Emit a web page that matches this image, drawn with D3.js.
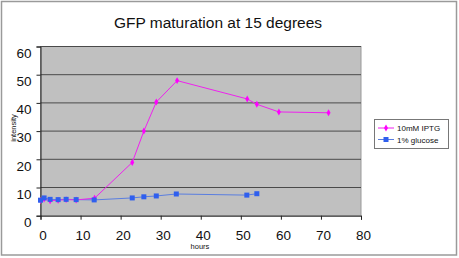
<!DOCTYPE html>
<html>
<head>
<meta charset="utf-8">
<script src="https://cdn.jsdelivr.net/npm/d3@7"></script>
<style>
  body { margin: 0; background: #fff; }
  text { font-family: "Liberation Sans", Arial, sans-serif; }
</style>
</head>
<body>
<svg></svg>
<script>
// values
const iptgHours = [0, 0.9, 2.4, 4.4, 6.4, 8.9, 13.5, 22.9, 25.8, 28.9, 34.1, 51.6, 54.0, 59.5, 71.9]
const iptgValues = [5.4, 5.9, 5.3, 5.5, 5.7, 5.6, 6.2, 18.9, 30.0, 40.3, 47.9, 41.4, 39.5, 36.8, 36.5]
const glucoseHours = [0, 0.9, 2.4, 4.4, 6.4, 8.9, 13.4, 22.9, 25.8, 28.9, 33.9, 51.5, 54.0]
const glucoseValues = [5.5, 6.3, 5.8, 5.7, 5.8, 5.7, 5.6, 6.3, 6.7, 7.0, 7.7, 7.3, 7.8]
const xTicks = [0, 10, 20, 30, 40, 50, 60, 70, 80]
const yTicks = [0, 10, 20, 30, 40, 50, 60]
const seriesNames = ['10mM IPTG', '1% glucose']

const
    svgWidth = 459,
    svgHeight = 258,
    LEFT = 40.5,
    RIGHT = 361,
    TOP = 46.5,
    BOTTOM = 215.7

let svg = d3.select('svg')
    .attr('width', svgWidth)
    .attr('height', svgHeight)

// outer frame
svg.append('rect')
    .attr('x', 1.5).attr('y', 1.5)
    .attr('width', 455).attr('height', 253.5)
    .attr('fill', 'none')
    .attr('stroke', '#9a9a9a')
    .attr('stroke-width', 1.5)

const x = d3.scaleLinear().domain([0, 80]).range([LEFT, RIGHT])
const y = d3.scaleLinear().domain([0, 60]).range([BOTTOM, TOP])

// plot area
svg.append('rect')
    .attr('x', LEFT).attr('y', TOP)
    .attr('width', RIGHT - LEFT).attr('height', BOTTOM - TOP)
    .attr('fill', '#c0c0c0')
    .attr('stroke', '#9a9a9a')
    .attr('stroke-width', 1)

// gridlines
svg.append('g')
    .selectAll('line')
    .data(yTicks.filter(d => d > 0))
    .join('line')
    .attr('x1', LEFT).attr('x2', RIGHT)
    .attr('y1', d => y(d)).attr('y2', d => y(d))
    .attr('stroke', '#4a4a4a')
    .attr('stroke-width', 1)

// axes
let xAxis = svg.append('g')
    .attr('transform', `translate(0,${BOTTOM})`)
    .call(d3.axisBottom(x).tickValues(xTicks).tickSize(4).tickPadding(11))
let yAxis = svg.append('g')
    .attr('transform', `translate(${LEFT},0)`)
    .call(d3.axisLeft(y).tickValues(yTicks).tickSize(4).tickPadding(5))

;[xAxis, yAxis].forEach(a => {
    a.selectAll('path, line').attr('stroke', '#222')
    a.selectAll('text')
        .attr('font-size', 13.5)
        .attr('font-family', '"Liberation Sans", Arial, sans-serif')
        .attr('fill', '#111')
})
yAxis.selectAll('text').attr('dy', '0.8em')
xAxis.selectAll('text').attr('dx', '0.15em')

// lines and markers
const iptg = iptgHours.map((h, i) => [h, iptgValues[i]])
const glucose = glucoseHours.map((h, i) => [h, glucoseValues[i]])
const line = d3.line().x(d => x(d[0])).y(d => y(d[1]))

svg.append('path')
    .attr('d', line(glucose))
    .attr('fill', 'none')
    .attr('stroke', '#5a7ee0')
    .attr('stroke-width', 1)

svg.append('path')
    .attr('d', line(iptg))
    .attr('fill', 'none')
    .attr('stroke', '#ee22ee')
    .attr('stroke-width', 1)

svg.append('g')
    .selectAll('path')
    .data(iptg)
    .join('path')
    .attr('d', d3.symbol(d3.symbolDiamond, 14))
    .attr('transform', d => `translate(${x(d[0])},${y(d[1])})`)
    .attr('fill', '#ff00ff')

svg.append('g')
    .selectAll('rect')
    .data(glucose)
    .join('rect')
    .attr('x', d => x(d[0]) - 2.5)
    .attr('y', d => y(d[1]) - 2.5)
    .attr('width', 5).attr('height', 5)
    .attr('fill', '#2f5fee')

// title and axis labels
svg.append('text')
    .text('GFP maturation at 15 degrees')
    .attr('x', 218).attr('y', 28)
    .attr('text-anchor', 'middle')
    .attr('font-size', 15.5)
    .attr('fill', '#111')

svg.append('text')
    .text('hours')
    .attr('x', 200).attr('y', 249)
    .attr('text-anchor', 'middle')
    .attr('font-size', 7.5)
    .attr('fill', '#111')

svg.append('text')
    .text('intensity')
    .attr('transform', 'translate(16,128) rotate(-90)')
    .attr('text-anchor', 'middle')
    .attr('font-size', 7.5)
    .attr('fill', '#111')

// legend
let legend = svg.append('g')
legend.append('rect')
    .attr('x', 374.5).attr('y', 119.5)
    .attr('width', 74).attr('height', 29)
    .attr('fill', '#fff')
    .attr('stroke', '#777')
    .attr('stroke-width', 1)

const legendColors = ['#ee22ee', '#5a7ee0']
seriesNames.forEach((name, i) => {
    const ly = 128 + i * 11.5
    legend.append('line')
        .attr('x1', 378).attr('x2', 394)
        .attr('y1', ly).attr('y2', ly)
        .attr('stroke', legendColors[i])
    if (i === 0) {
        legend.append('path')
            .attr('d', d3.symbol(d3.symbolDiamond, 14))
            .attr('transform', `translate(386,${ly})`)
            .attr('fill', '#ff00ff')
    } else {
        legend.append('rect')
            .attr('x', 383.5).attr('y', ly - 2.5)
            .attr('width', 5).attr('height', 5)
            .attr('fill', '#2f5fee')
    }
    legend.append('text')
        .text(name)
        .attr('x', 397).attr('y', ly + 3)
        .attr('font-size', 8)
        .attr('fill', '#111')
})
</script>
</body>
</html>
